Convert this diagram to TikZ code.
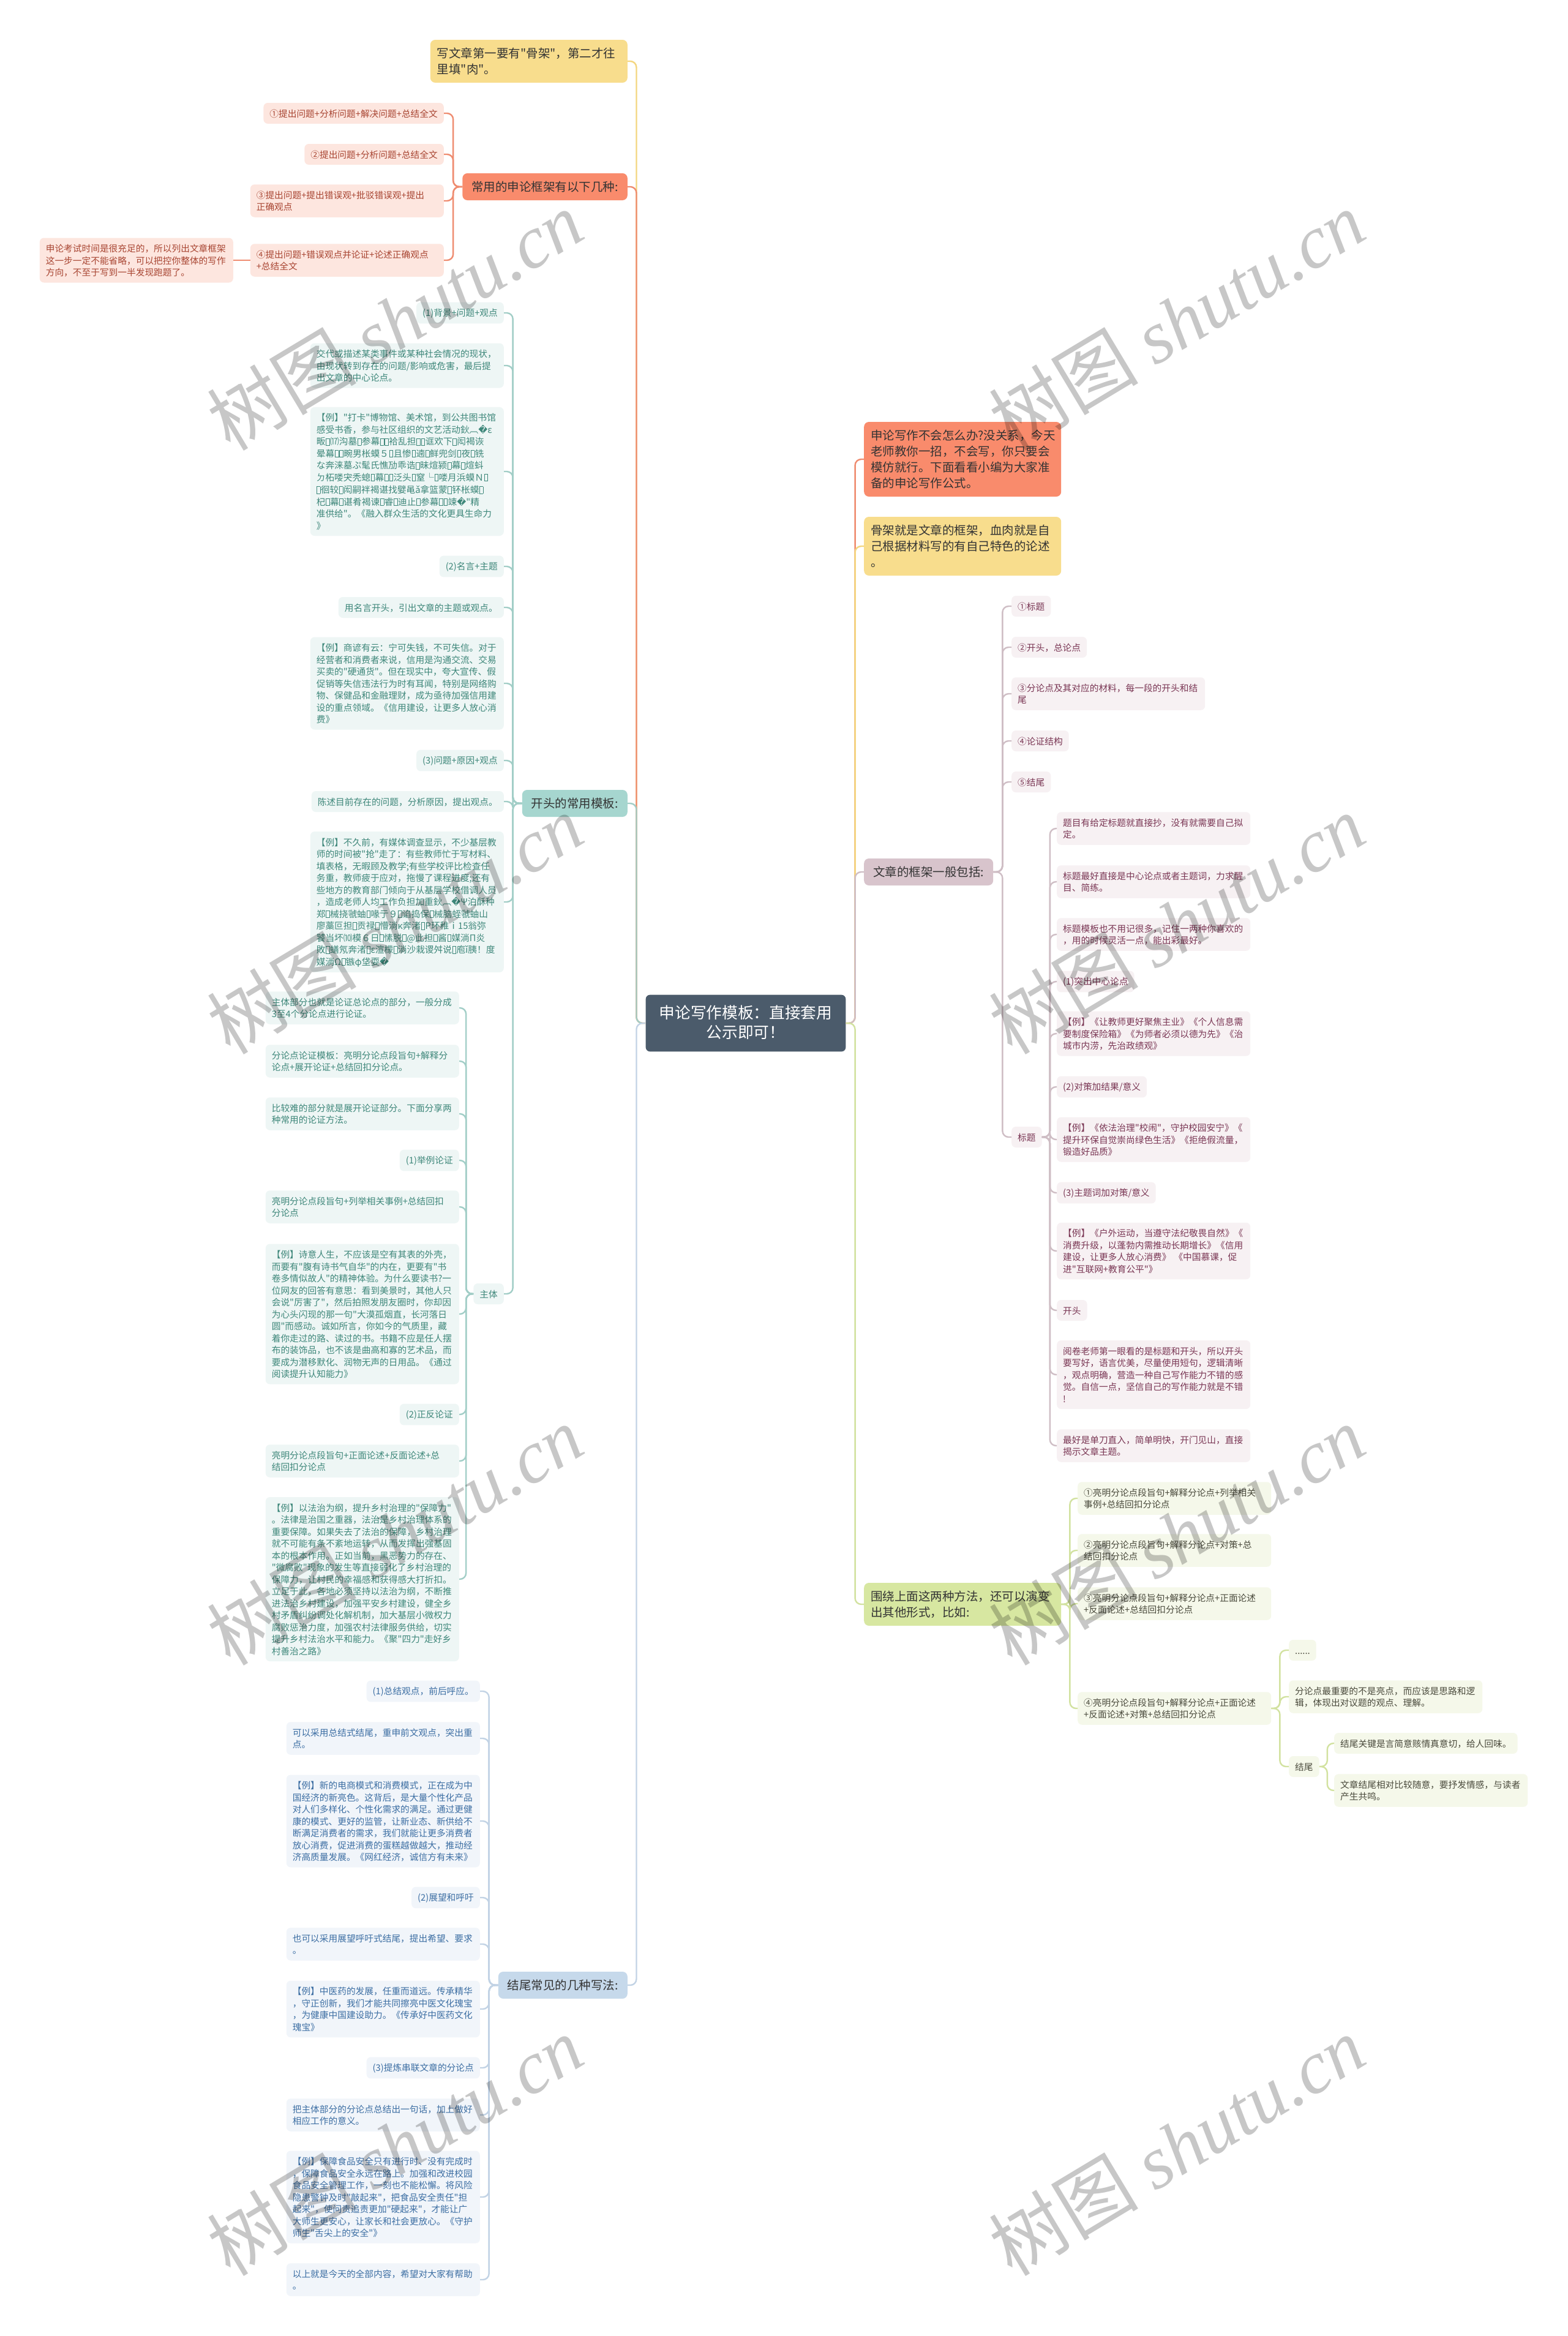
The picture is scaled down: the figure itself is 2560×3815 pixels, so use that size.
\documentclass[tikz,border=0pt]{standalone}
\usepackage{fontspec}
\newfontfamily\cjk{Noto Sans CJK SC}
\newfontfamily\dejavu{DejaVu Sans}
\newfontfamily\wmserif{Liberation Serif}
\setmainfont{Noto Sans CJK SC}
\definecolor{rootc}{HTML}{4B5B6B}
\definecolor{txtdark}{HTML}{333333}
\definecolor{orgbox}{HTML}{F98B6C}
\definecolor{orgline}{HTML}{EF8C70}
\definecolor{orgleaf}{HTML}{FDE6DF}
\definecolor{orgtext}{HTML}{A84532}
\definecolor{ylwbox}{HTML}{F8DD8D}
\definecolor{ylwline}{HTML}{F4D67F}
\definecolor{tealbox}{HTML}{A6D6CF}
\definecolor{tealline}{HTML}{A2CEC7}
\definecolor{tealleaf}{HTML}{EEF6F5}
\definecolor{tealtext}{HTML}{3E877A}
\definecolor{bluebox}{HTML}{C6D9EB}
\definecolor{blueline}{HTML}{C2D3E5}
\definecolor{blueleaf}{HTML}{F1F5FA}
\definecolor{bluetext}{HTML}{3C6EA3}
\definecolor{mauvebox}{HTML}{D8C4CC}
\definecolor{mauveline}{HTML}{CFBEC5}
\definecolor{mauveleaf}{HTML}{F7F1F3}
\definecolor{mauvetext}{HTML}{7A3654}
\definecolor{grnbox}{HTML}{D7E7A1}
\definecolor{grnline}{HTML}{D2E2A0}
\definecolor{grnleaf}{HTML}{F5F8EA}
\definecolor{grntext}{HTML}{4A4A3C}
\newcommand\stL{\rule[-2pt]{0pt}{16pt}}
\newcommand\stB{\rule[-2.5pt]{0pt}{20pt}}
\newcommand\stR{\rule[-4pt]{0pt}{27pt}}
\newcommand\bx{\kern0.6pt{\setlength\fboxsep{0pt}\setlength\fboxrule{0.7pt}\fbox{\rule{0pt}{10.5pt}\hspace{5pt}}}\kern0.6pt}
\newcommand\repch{{\dejavu �}}
\tikzset{
 leafbox/.style={rounded corners=7pt, inner xsep=10pt, inner ysep=9pt, align=left,
   font=\cjk\fontsize{14.7}{19.5}\selectfont, execute at begin node=\stL, execute at end node=\stL},
 multiline/.style={text width=296pt},
 lfO/.style={leafbox, fill=orgleaf, text=orgtext},
 lfT/.style={leafbox, fill=tealleaf, text=tealtext},
 lfB/.style={leafbox, fill=blueleaf, text=bluetext},
 lfM/.style={leafbox, fill=mauveleaf, text=mauvetext},
 lfG/.style={leafbox, fill=grnleaf, text=grntext},
 branchbox/.style={rounded corners=8pt, inner xsep=15pt, inner ysep=12pt, align=left, text=txtdark,
   font=\cjk\fontsize{19.5}{26}\selectfont, execute at begin node=\stB, execute at end node=\stB},
 multibranch/.style={text width=300pt, inner xsep=11pt},
 rootbox/.style={rounded corners=7pt, fill=rootc, text=white, inner xsep=22pt, inner ysep=17.5pt, align=center,
   font=\cjk\fontsize{25.7}{32}\selectfont, execute at begin node=\stR, execute at end node=\stR},
 lnk/.style={line width=2.4pt, rounded corners=10pt},
 wmark/.style={rotate=31, text=black, text opacity=0.22, font=\cjk\fontsize{122}{122}\selectfont, inner sep=0pt}
}
\begin{document}
\begin{tikzpicture}[x=1pt,y=-1pt]
\fill[white] (0,0) rectangle (2560,3815);
\path[use as bounding box] (0,0) rectangle (2560,3815);

% ---------- root
\node[rootbox] (root) at (1218,1671) {申论写作模板：直接套用\\公示即可！};

% ---------- left: yellow
\node[branchbox, multibranch, fill=ylwbox, anchor=east] (A1) at (1025,100) {写文章第一要有"骨架"，第二才往\\里填"肉"。};

% ---------- left: orange
\node[branchbox, fill=orgbox, anchor=east] (A2) at (1025,305) {常用的申论框架有以下几种:};
\node[lfO, anchor=east] (c1) at (725,185) {①提出问题+分析问题+解决问题+总结全文};
\node[lfO, anchor=east] (c2) at (725,252) {②提出问题+分析问题+总结全文};
\node[lfO, multiline, anchor=east] (c3) at (725,328) {③提出问题+提出错误观+批驳错误观+提出\\正确观点};
\node[lfO, multiline, anchor=east] (c4) at (725,425) {④提出问题+错误观点并论证+论述正确观点\\+总结全文};
\node[lfO, multiline, anchor=east] (c5) at (381,425) {申论考试时间是很充足的，所以列出文章框架\\这一步一定不能省略，可以把控你整体的写作\\方向，不至于写到一半发现跑题了。};

% ---------- left: teal
\node[branchbox, fill=tealbox, anchor=east] (A3) at (1025,1312) {开头的常用模板:};
\node[lfT, anchor=east] (t1) at (823,511) {(1)背景+问题+观点};
\node[lfT, multiline, anchor=east] (t2) at (823,597) {交代或描述某类事件或某种社会情况的现状，\\由现状转到存在的问题/影响或危害，最后提\\出文章的中心论点。};
\node[lfT, multiline, anchor=east] (t3) at (823,770) {【例】"打卡"博物馆、美术馆，到公共图书馆\\感受书香，参与社区组织的文艺活动鈥︹\repch{}ε\\畈\bx{}⒄沟墓\bx{}参幕\bx{}\bx{}袷乱担\bx{}\bx{}诓欢下\bx{}闳褐诙\\晕幕\bx{}\bx{}畹男枨蟆５\bx{}且惨\bx{}遖\bx{}鲜兜剑\bx{}夜\bx{}铣\\な奔涞墓ぷ髦氏憔劢乖诰\bx{}昧煊颍\bx{}幕\bx{}煊蚪\\ㄉ柘喽宊秃螅\bx{}幕\bx{}\bx{}泛头\bx{}窒└\bx{}喽月浜蟆Ｎ\bx{}\\\bx{}徊较\bx{}闳嗣袢褐谌找嬖黾ǎ拿篮蒙\bx{}钚枨蟆\bx{}\\杞\bx{}幕\bx{}谌肴褐谏\bx{}睿\bx{}迪止\bx{}参幕\bx{}\bx{}竦\repch{}"精\\准供给"。《融入群众生活的文化更具生命力\\》};
\node[lfT, anchor=east] (t4) at (823,925) {(2)名言+主题};
\node[lfT, anchor=east] (t5) at (823,992) {用名言开头，引出文章的主题或观点。};
\node[lfT, multiline, anchor=east] (t6) at (823,1116) {【例】商谚有云：宁可失钱，不可失信。对于\\经营者和消费者来说，信用是沟通交流、交易\\买卖的"硬通货"。但在现实中，夸大宣传、假\\促销等失信违法行为时有耳闻，特别是网络购\\物、保健品和金融理财，成为亟待加强信用建\\设的重点领域。《信用建设，让更多人放心消\\费》};
\node[lfT, anchor=east] (t7) at (823,1242) {(3)问题+原因+观点};
\node[lfT, anchor=east] (t8) at (823,1309) {陈述目前存在的问题，分析原因，提出观点。};
\node[lfT, multiline, anchor=east] (t9) at (823,1473) {【例】不久前，有媒体调查显示，不少基层教\\师的时间被"抢"走了：有些教师忙于写材料、\\填表格，无暇顾及教学;有些学校评比检查任\\务重，教师疲于应对，拖慢了课程进度;还有\\些地方的教育部门倾向于从基层学校借调人员\\，造成老师人均工作负担加重鈥︹\repch{}Ψ泊酥种\\郑\bx{}械挠虢蚰\bx{}喙亍９\bx{}谄捣保\bx{}械脑蛭虢蚰山\\廖藁叵担\bx{}贡禄\bx{}懵淌κ奔渚\bx{}Ρ环稚ⅰ15翁弥\\饕当坏⑽模６日\bx{}愫脱\bx{}@此担\bx{}酱\bx{}媒淌Π炎\\敗\bx{}蟮氖奔渚\bx{}ε渲檬\bx{}淌沙栽谡舛说\bx{}庖ǐ胰！度\\媒淌Ω\bx{}镞φ垡耍\repch{}};
\node[lfT, anchor=east] (t10) at (823,2113) {主体};

% ---------- body children
\node[lfT, multiline, anchor=east] (m1) at (750,1646) {主体部分也就是论证总论点的部分，一般分成\\3至4个分论点进行论证。};
\node[lfT, multiline, anchor=east] (m2) at (750,1733) {分论点论证模板：亮明分论点段旨句+解释分\\论点+展开论证+总结回扣分论点。};
\node[lfT, multiline, anchor=east] (m3) at (750,1819) {比较难的部分就是展开论证部分。下面分享两\\种常用的论证方法。};
\node[lfT, anchor=east] (m4) at (750,1895) {(1)举例论证};
\node[lfT, multiline, anchor=east] (m5) at (750,1971) {亮明分论点段旨句+列举相关事例+总结回扣\\分论点};
\node[lfT, multiline, anchor=east] (m6) at (750,2146) {【例】诗意人生，不应该是空有其表的外壳，\\而要有"腹有诗书气自华"的内在，更要有"书\\卷多情似故人"的精神体验。为什么要读书?一\\位网友的回答有意思：看到美景时，其他人只\\会说"厉害了"，然后拍照发朋友圈时，你却因\\为心头闪现的那一句"大漠孤烟直，长河落日\\圆"而感动。诚如所言，你如今的气质里，藏\\着你走过的路、读过的书。书籍不应是任人摆\\布的装饰品，也不该是曲高和寡的艺术品，而\\要成为潜移默化、润物无声的日用品。《通过\\阅读提升认知能力》};
\node[lfT, anchor=east] (m7) at (750,2310) {(2)正反论证};
\node[lfT, multiline, anchor=east] (m8) at (750,2386) {亮明分论点段旨句+正面论述+反面论述+总\\结回扣分论点};
\node[lfT, multiline, anchor=east] (m9) at (750,2579) {【例】以法治为纲，提升乡村治理的"保障力"\\。法律是治国之重器，法治是乡村治理体系的\\重要保障。如果失去了法治的保障，乡村治理\\就不可能有条不紊地运转，从而发挥出强基固\\本的根本作用。正如当前，黑恶势力的存在、\\"微腐败"现象的发生等直接弱化了乡村治理的\\保障力，让村民的幸福感和获得感大打折扣。\\立足于此，各地必须坚持以法治为纲，不断推\\进法治乡村建设，加强平安乡村建设，健全乡\\村矛盾纠纷调处化解机制，加大基层小微权力\\腐败惩治力度，加强农村法律服务供给，切实\\提升乡村法治水平和能力。《聚"四力"走好乡\\村善治之路》};

% ---------- left: blue
\node[branchbox, fill=bluebox, anchor=east] (A4) at (1025,3242) {结尾常见的几种写法:};
\node[lfB, anchor=east] (b1) at (784,2762) {(1)总结观点，前后呼应。};
\node[lfB, multiline, anchor=east] (b2) at (784,2839) {可以采用总结式结尾，重申前文观点，突出重\\点。};
\node[lfB, multiline, anchor=east] (b3) at (784,2974) {【例】新的电商模式和消费模式，正在成为中\\国经济的新亮色。这背后，是大量个性化产品\\对人们多样化、个性化需求的满足。通过更健\\康的模式、更好的监管，让新业态、新供给不\\断满足消费者的需求，我们就能让更多消费者\\放心消费，促进消费的蛋糕越做越大，推动经\\济高质量发展。《网红经济，诚信方有未来》};
\node[lfB, anchor=east] (b4) at (784,3099) {(2)展望和呼吁};
\node[lfB, multiline, anchor=east] (b5) at (784,3175) {也可以采用展望呼吁式结尾，提出希望、要求\\。};
\node[lfB, multiline, anchor=east] (b6) at (784,3281) {【例】中医药的发展，任重而道远。传承精华\\，守正创新，我们才能共同擦亮中医文化瑰宝\\，为健康中国建设助力。《传承好中医药文化\\瑰宝》};
\node[lfB, anchor=east] (b7) at (784,3377) {(3)提炼串联文章的分论点};
\node[lfB, multiline, anchor=east] (b8) at (784,3454) {把主体部分的分论点总结出一句话，加上做好\\相应工作的意义。};
\node[lfB, multiline, anchor=east] (b9) at (784,3588) {【例】保障食品安全只有进行时、没有完成时\\，保障食品安全永远在路上。加强和改进校园\\食品安全管理工作，一刻也不能松懈。将风险\\隐患警钟及时"敲起来"，把食品安全责任"担\\起来"，使问责追责更加"硬起来"，才能让广\\大师生更安心，让家长和社会更放心。《守护\\师生"舌尖上的安全"》};
\node[lfB, multiline, anchor=east] (b10) at (784,3723) {以上就是今天的全部内容，希望对大家有帮助\\。};

% ---------- right
\node[branchbox, multibranch, fill=orgbox, anchor=west] (R1) at (1411,750) {申论写作不会怎么办?没关系，今天\\老师教你一招，不会写，你只要会\\模仿就行。下面看看小编为大家准\\备的申论写作公式。};
\node[branchbox, multibranch, fill=ylwbox, anchor=west] (R2) at (1411,892) {骨架就是文章的框架，血肉就是自\\己根据材料写的有自己特色的论述\\。};
\node[branchbox, fill=mauvebox, anchor=west] (R3) at (1411,1424) {文章的框架一般包括:};
\node[lfM, anchor=west] (p1) at (1652,990) {①标题};
\node[lfM, anchor=west] (p2) at (1652,1057) {②开头，总论点};
\node[lfM, multiline, anchor=west] (p3) at (1652,1133) {③分论点及其对应的材料，每一段的开头和结\\尾};
\node[lfM, anchor=west] (p4) at (1652,1210) {④论证结构};
\node[lfM, anchor=west] (p5) at (1652,1277) {⑤结尾};
\node[lfM, anchor=west] (p6) at (1652,1857) {标题};
\node[lfM, multiline, anchor=west] (h1) at (1726,1353) {题目有给定标题就直接抄，没有就需要自己拟\\定。};
\node[lfM, multiline, anchor=west] (h2) at (1726,1440) {标题最好直接是中心论点或者主题词，力求醒\\目、简练。};
\node[lfM, multiline, anchor=west] (h3) at (1726,1526) {标题模板也不用记很多，记住一两种你喜欢的\\，用的时候灵活一点，能出彩最好。};
\node[lfM, anchor=west] (h4) at (1726,1603) {(1)突出中心论点};
\node[lfM, multiline, anchor=west] (h5) at (1726,1688) {【例】《让教师更好聚焦主业》《个人信息需\\要制度保险箱》《为师者必须以德为先》《治\\城市内涝，先治政绩观》};
\node[lfM, anchor=west] (h6) at (1726,1775) {(2)对策加结果/意义};
\node[lfM, multiline, anchor=west] (h7) at (1726,1861) {【例】《依法治理"校闹"，守护校园安宁》《\\提升环保自觉崇尚绿色生活》《拒绝假流量，\\锻造好品质》};
\node[lfM, anchor=west] (h8) at (1726,1948) {(3)主题词加对策/意义};
\node[lfM, multiline, anchor=west] (h9) at (1726,2043) {【例】《户外运动，当遵守法纪敬畏自然》《\\消费升级，以蓬勃内需推动长期增长》《信用\\建设，让更多人放心消费》~《中国慕课，促\\进"互联网+教育公平"》};
\node[lfM, anchor=west] (h10) at (1726,2140) {开头};
\node[lfM, multiline, anchor=west] (h11) at (1726,2245) {阅卷老师第一眼看的是标题和开头，所以开头\\要写好，语言优美，尽量使用短句，逻辑清晰\\，观点明确，营造一种自己写作能力不错的感\\觉。自信一点，坚信自己的写作能力就是不错\\!};
\node[lfM, multiline, anchor=west] (h12) at (1726,2361) {最好是单刀直入，简单明快，开门见山，直接\\揭示文章主题。};

\node[branchbox, multibranch, fill=grnbox, anchor=west] (R4) at (1411,2620) {围绕上面这两种方法，还可以演变\\出其他形式，比如:};
\node[lfG, multiline, anchor=west] (g1) at (1760,2447) {①亮明分论点段旨句+解释分论点+列举相关\\事例+总结回扣分论点};
\node[lfG, multiline, anchor=west] (g2) at (1760,2532) {②亮明分论点段旨句+解释分论点+对策+总\\结回扣分论点};
\node[lfG, multiline, anchor=west] (g3) at (1760,2619) {③亮明分论点段旨句+解释分论点+正面论述\\+反面论述+总结回扣分论点};
\node[lfG, multiline, anchor=west] (g4) at (1760,2790) {④亮明分论点段旨句+解释分论点+正面论述\\+反面论述+对策+总结回扣分论点};
\node[lfG, anchor=west] (g5) at (2105,2695) {......};
\node[lfG, multiline, anchor=west] (g6) at (2105,2771) {分论点最重要的不是亮点，而应该是思路和逻\\辑，体现出对议题的观点、理解。};
\node[lfG, anchor=west] (g7) at (2105,2885) {结尾};
\node[lfG, anchor=west] (g8) at (2179,2847) {结尾关键是言简意赅情真意切，给人回味。};
\node[lfG, multiline, anchor=west] (g9) at (2179,2924) {文章结尾相对比较随意，要抒发情感，与读者\\产生共鸣。};

% ---------- connectors (left)
\draw[lnk, draw=ylwline] (root.west) -- ++(-15,0) |- (A1.east);
\draw[lnk, draw=orgline] (root.west) -- ++(-15,0) |- (A2.east);
\draw[lnk, draw=tealline] (root.west) -- ++(-15,0) |- (A3.east);
\draw[lnk, draw=blueline] (root.west) -- ++(-15,0) |- (A4.east);
\foreach \c in {c1,c2,c3,c4} {\draw[lnk, draw=orgline] (A2.west) -- ++(-15,0) |- (\c.east);}
\draw[lnk, draw=orgline] (c4.west) -- (c5.east);
\foreach \c in {t1,t2,t3,t4,t5,t6,t7,t8,t9,t10} {\draw[lnk, draw=tealline] (A3.west) -- ++(-15,0) |- (\c.east);}
\foreach \c in {m1,m2,m3,m4,m5,m6,m7,m8,m9} {\draw[lnk, draw=tealline] (t10.west) -- ++(-12,0) |- (\c.east);}
\foreach \c in {b1,b2,b3,b4,b5,b6,b7,b8,b9,b10} {\draw[lnk, draw=blueline] (A4.west) -- ++(-15,0) |- (\c.east);}

% ---------- connectors (right)
\draw[lnk, draw=orgline] (root.east) -- ++(15,0) |- (R1.west);
\draw[lnk, draw=ylwline] (root.east) -- ++(15,0) |- (R2.west);
\draw[lnk, draw=mauveline] (root.east) -- ++(15,0) |- (R3.west);
\draw[lnk, draw=grnline] (root.east) -- ++(15,0) |- (R4.west);
\foreach \c in {p1,p2,p3,p4,p5,p6} {\draw[lnk, draw=mauveline] (R3.east) -- ++(15,0) |- (\c.west);}
\foreach \c in {h1,h2,h3,h4,h5,h6,h7,h8,h9,h10,h11,h12} {\draw[lnk, draw=mauveline] (p6.east) -- ++(13,0) |- (\c.west);}
\foreach \c in {g1,g2,g3,g4} {\draw[lnk, draw=grnline] (R4.east) -- ++(14,0) |- (\c.west);}
\foreach \c in {g5,g6,g7} {\draw[lnk, draw=grnline] (g4.east) -- ++(14,0) |- (\c.west);}
\foreach \c in {g8,g9} {\draw[lnk, draw=grnline] (g7.east) -- ++(13,0) |- (\c.west);}

% ---------- watermarks
\foreach \wx/\wy [count=\i] in {645/523, 1922/523, 645/1509, 1922/1509, 645/2507, 1922/2507, 645/3504, 1922/3504}
  {\node[wmark] (wm\i) at (\wx,\wy) {树图 {\wmserif\itshape shutu.cn}};}
\end{tikzpicture}
\end{document}
